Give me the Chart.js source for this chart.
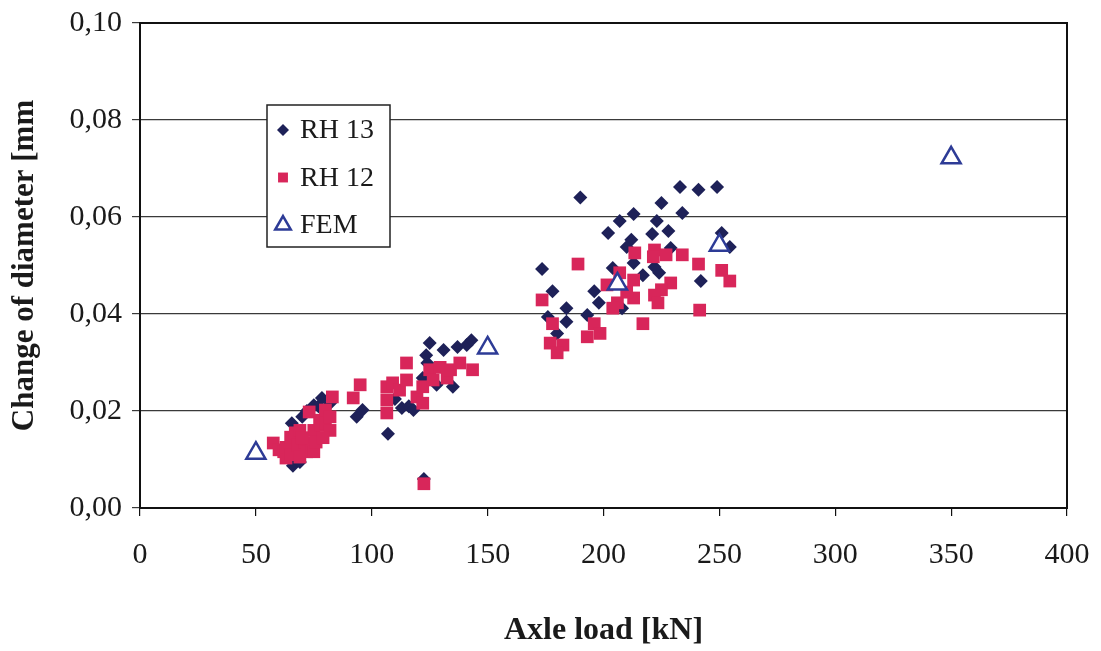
<!DOCTYPE html>
<html>
<head>
<meta charset="utf-8">
<script src="https://cdn.jsdelivr.net/npm/chart.js@4.4.1/dist/chart.umd.min.js"></script>
<style>
  html, body { margin: 0; padding: 0; background: #fff; }
  #wrap { width: 1101px; height: 651px; position: relative; }
</style>
</head>
<body>
<div id="wrap"><canvas id="diamChart" width="1101" height="651"></canvas></div>
<script>
// measured wheel diameter change vs axle load, two wheelsets plus FEM
var rh13Load = [66, 69, 65.5, 70, 72, 75, 77, 78.5, 82, 93.5, 96, 107, 110, 113, 116, 118, 122, 124, 123.5, 125, 128, 131, 135, 137, 141, 143, 122.5,
    173.5, 178, 184, 176, 184, 180, 190, 202, 207, 213, 212, 210, 204, 213, 217, 196, 198, 193, 208,
    233, 241, 249, 225, 234, 223, 228, 221, 251, 254.5, 229, 224, 242, 222];
var rh13Diam = [0.0087, 0.0095, 0.0175, 0.0188, 0.0200, 0.0212, 0.0210, 0.0227, 0.0216, 0.0188, 0.0202, 0.0153, 0.0225, 0.0206, 0.0210, 0.0202, 0.0268, 0.0299, 0.0315, 0.0340, 0.0254, 0.0326, 0.0250, 0.0332, 0.0336, 0.0346, 0.0060,
    0.0493, 0.0447, 0.0412, 0.0394, 0.0384, 0.0360, 0.0640, 0.0567, 0.0592, 0.0606, 0.0553, 0.0538, 0.0495, 0.0505, 0.0480, 0.0447, 0.0423, 0.0398, 0.0412,
    0.0662, 0.0656, 0.0662, 0.0629, 0.0608, 0.0592, 0.0571, 0.0565, 0.0567, 0.0538, 0.0536, 0.0485, 0.0468, 0.0497];

var rh12Load = [57.5, 60, 62, 63, 63, 65, 65, 67, 68, 69, 69, 71, 72, 73, 74, 75, 75, 76, 77.5, 78, 80, 80, 82, 82, 83, 92, 95, 70, 79,
    106.5, 106.5, 106.5, 109, 112, 115, 115, 119.5, 122, 122, 125, 126.5, 129.5, 132.5, 134, 138, 143.5, 122.5,
    189, 173.5, 178, 177, 182.5, 180, 196, 198.5, 193, 201.5, 207, 213, 206, 213, 204, 213.5, 217, 210,
    222, 221.5, 227, 234, 241, 251, 254.5, 229, 225, 222, 223.5, 241.5];
var rh12Diam = [0.0134, 0.0120, 0.0116, 0.0103, 0.0125, 0.0146, 0.0110, 0.0155, 0.0130, 0.0160, 0.0105, 0.0135, 0.0116, 0.0198, 0.0125, 0.0160, 0.0116, 0.0136, 0.0181, 0.0170, 0.0202, 0.0175, 0.0188, 0.0160, 0.0229, 0.0227, 0.0254, 0.0145, 0.0145,
    0.0250, 0.0223, 0.0196, 0.0258, 0.0243, 0.0299, 0.0264, 0.0229, 0.0216, 0.0250, 0.0285, 0.0264, 0.0290, 0.0268, 0.0285, 0.0299, 0.0285, 0.0050,
    0.0503, 0.0429, 0.0380, 0.0340, 0.0336, 0.0320, 0.0380, 0.0360, 0.0353, 0.0460, 0.0485, 0.0470, 0.0423, 0.0433, 0.0412, 0.0526, 0.0380, 0.0445,
    0.0532, 0.0518, 0.0522, 0.0522, 0.0503, 0.0490, 0.0468, 0.0464, 0.0450, 0.0439, 0.0423, 0.0408];

var femLoad = [50, 150, 206, 250, 350];
var femDiam = [0.0113, 0.0330, 0.0462, 0.0542, 0.0722];

var xTicks = [0, 50, 100, 150, 200, 250, 300, 350, 400];
var yTicks = [0, 0.02, 0.04, 0.06, 0.08, 0.10];

var navy = '#1e2158';
var crimson = '#d8265a';
var femBlue = '#2d3b96';
var serif = "'Liberation Serif', 'Times New Roman', serif";

function pts(xs, ys) {
    return xs.map(function(x, i) { return {x: x, y: ys[i]}; });
}

// frame round the plot area and the boxed legend inside it
var framePlugin = {
    id: 'frame',
    afterDatasetsDraw: function(chart) {
        var ctx = chart.ctx, a = chart.chartArea;
        ctx.save();
        ctx.strokeStyle = '#111';
        ctx.lineWidth = 2;
        ctx.strokeRect(a.left, a.top, a.right - a.left, a.bottom - a.top);

        var bx = a.left + 127, by = a.top + 82, bw = 123, bh = 142;
        ctx.fillStyle = '#fff';
        ctx.fillRect(bx, by, bw, bh);
        ctx.lineWidth = 1.5;
        ctx.strokeStyle = '#222';
        ctx.strokeRect(bx, by, bw, bh);

        var items = chart.data.datasets;
        var sizes = [6, 7, 9];
        ctx.font = '28px ' + serif;
        ctx.textBaseline = 'middle';
        ctx.textAlign = 'left';
        items.forEach(function(ds, i) {
            var cy = by + 25 + i * 47.5;
            ctx.fillStyle = ds.pointBackgroundColor;
            ctx.strokeStyle = ds.pointBorderColor;
            ctx.lineWidth = ds.pointBorderWidth;
            Chart.helpers.drawPoint(ctx, {pointStyle: ds.pointStyle, radius: sizes[i], borderWidth: ds.pointBorderWidth, rotation: 0}, bx + 16, cy);
            ctx.fillStyle = '#1a1a1a';
            ctx.fillText(ds.label, bx + 33, cy + 1);
        });
        ctx.restore();
    }
};

new Chart(document.getElementById('diamChart'), {
    type: 'scatter',
    data: {
        datasets: [
            {
                label: 'RH 13',
                data: pts(rh13Load, rh13Diam),
                pointStyle: 'rectRot',
                pointRadius: 7,
                pointBackgroundColor: navy,
                pointBorderColor: navy,
                pointBorderWidth: 0,
                order: 2
            },
            {
                label: 'RH 12',
                data: pts(rh12Load, rh12Diam),
                pointStyle: 'rect',
                pointRadius: 9,
                pointBackgroundColor: crimson,
                pointBorderColor: crimson,
                pointBorderWidth: 0,
                order: 1
            },
            {
                label: 'FEM',
                data: pts(femLoad, femDiam),
                pointStyle: 'triangle',
                pointRadius: 11,
                pointBackgroundColor: '#fff',
                pointBorderColor: femBlue,
                pointBorderWidth: 2.5,
                order: 0
            }
        ]
    },
    options: {
        responsive: false,
        animation: false,
        layout: { padding: { top: 23, right: 34, left: 0, bottom: 0 } },
        plugins: {
            legend: { display: false },
            tooltip: { enabled: false }
        },
        scales: {
            x: {
                type: 'linear',
                min: 0,
                max: 400,
                afterFit: function(s) { s.height = 143; s.paddingRight = 0; },
                afterBuildTicks: function(s) { s.ticks = xTicks.map(function(v) { return {value: v}; }); },
                grid: { drawOnChartArea: false, drawTicks: true, tickLength: 8, color: '#111', lineWidth: 1.2 },
                border: { color: '#111', width: 2 },
                ticks: { color: '#1a1a1a', padding: 21, maxRotation: 0, font: { family: serif, size: 30 } },
                title: { display: true, text: 'Axle load [kN]', color: '#1a1a1a', padding: { top: 0, bottom: 1 },
                         font: { family: serif, size: 32, weight: 'bold', lineHeight: 1.2 } }
            },
            y: {
                min: 0,
                max: 0.1,
                afterFit: function(s) { s.width = 140; s.paddingTop = 0; s.paddingBottom = 0; },
                afterBuildTicks: function(s) { s.ticks = yTicks.map(function(v) { return {value: v}; }); },
                grid: { drawTicks: true, tickLength: 8, color: '#3a3a3a', lineWidth: 1.2 },
                border: { color: '#111', width: 2 },
                ticks: {
                    color: '#1a1a1a', padding: 10, font: { family: serif, size: 30 },
                    callback: function(v) { return v.toFixed(2).replace('.', ','); }
                },
                title: { display: true, text: 'Change of diameter [mm', color: '#1a1a1a', padding: { top: 6, bottom: 0 },
                         font: { family: serif, size: 31, weight: 'bold', lineHeight: 1.2 } }
            }
        }
    },
    plugins: [framePlugin]
});
</script>
</body>
</html>
